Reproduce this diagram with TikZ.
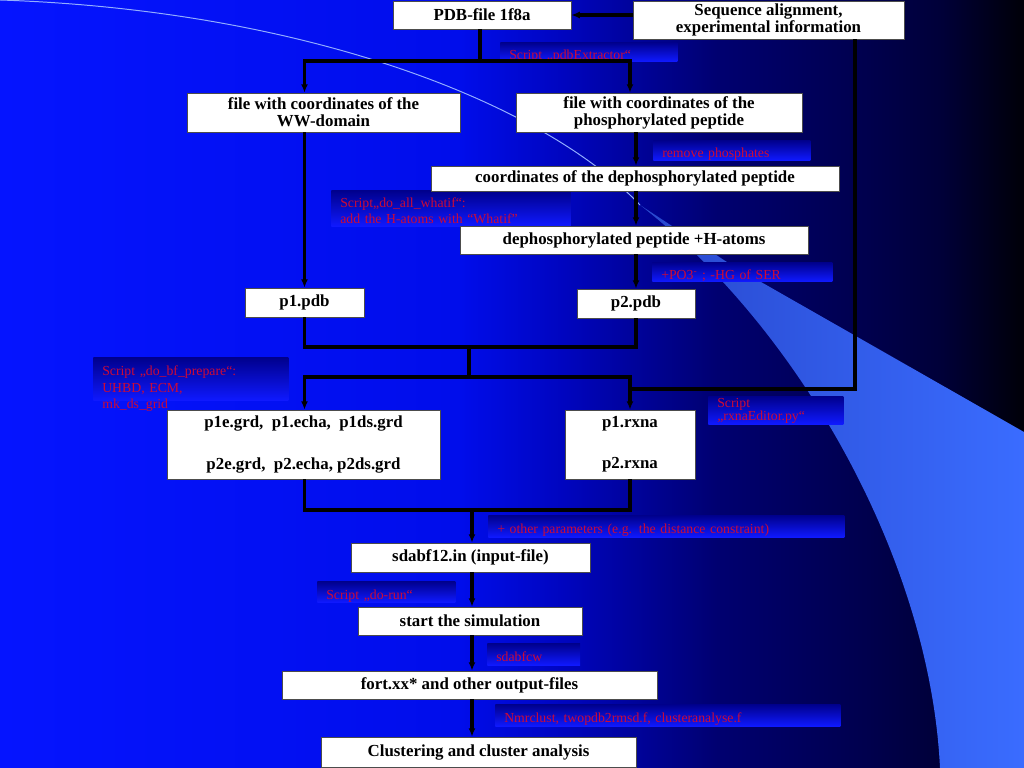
\documentclass[tikz,border=0pt]{standalone}
\usepackage{fontspec}
\setmainfont{Liberation Serif}
\usetikzlibrary{arrows.meta,positioning,calc}
\definecolor{labred}{RGB}{205,10,55}
\definecolor{bandblue}{RGB}{58,108,255}
\definecolor{banddark}{RGB}{40,72,205}
\definecolor{lbltop}{RGB}{0,0,140}
\definecolor{lblbot}{RGB}{15,25,255}
\pgfdeclarehorizontalshading{bgfade}{100bp}{rgb(0bp)=(0.02,0.08,1); rgb(25bp)=(0.02,0.08,1); rgb(47.5bp)=(0,0.05,0.92); rgb(52.5bp)=(0,0.02,0.75); rgb(60bp)=(0,0,0.44); rgb(67.5bp)=(0,0,0.3); rgb(71bp)=(0,0,0.22); rgb(75bp)=(0,0,0.03); rgb(100bp)=(0,0,0.03)}
\tikzset{
    %Define standard arrow tip
    >={Latex[length=6pt,width=5pt]},
    %Define style for the white file boxes
    filebox/.style 2 args={
           rectangle,
           fill=white,
           draw=black!70, thin,
           minimum width=#1,
           minimum height=#2,
           inner sep=1pt,
           align=center,
           font=\fontsize{12}{12}\selectfont\bfseries},
    % Define style for the script notes
    note/.style 2 args={
           anchor=north west,
           shade, top color=lbltop, bottom color=lblbot,
           text=labred,
           text width=#1,
           minimum height=#2,
           text height=10.6pt, text depth=0pt,
           inner xsep=6.4pt, inner ysep=0pt,
           align=left,
           font=\fontsize{9.8}{11.6}\selectfont},
    % Define connector style
    pil/.style={
           line width=2.2pt,
           draw=black}
}

\begin{document}
\begin{tikzpicture}[x=0.025cm, y=-0.025cm]
    \useasboundingbox (0,0) rectangle (1024,768);
    % background
    \shade[shading=bgfade] (0,0) rectangle (1024,768);
    \shade[left color=banddark, right color=bandblue] (640,205) -- (733,266) -- (1024,432) -- (1024,768) -- (940,768) .. controls (930,560) and (800,330) .. (640,205) -- cycle;
    \draw[bandblue!55!white, line width=0.7pt] (0,0) .. controls (300,10) and (540,100) .. (640,205);

    % script notes
    \node[note={113.1pt}{13.5pt}] (npdbx) at (500,42) {Script „pdbExtractor“};
    \node[note={98.9pt}{14.2pt}] (nremove) at (653,140) {remove phosphates};
    \node[note={157.2pt}{25.6pt}, text height=0pt, text depth=1.3pt] (nwhatif) at (331,190) {Script„do\_all\_whatif“:\\ add the H-atoms with ``Whatif”};
    \node[note={115.2pt}{13.5pt}] (npo) at (652,262) {+PO3\textsuperscript{-} ; -HG of SER};
    \node[note={125.9pt}{30.6pt}, text height=0pt, text depth=4.3pt] (nprep) at (93,357) {Script „do\_bf\_prepare“:\\ UHBD, ECM,\\ mk\_ds\_grid};
    \node[note={83.2pt}{19.9pt}, text height=0pt, text depth=3.6pt, font={\fontsize{9.8}{9.4}\selectfont\lineskiplimit=-20pt}] (nrxna) at (708,396) {Script\\ „rxnaEditor.py“};
    \node[note={240.4pt}{15.6pt}] (nparam) at (488,515) {+ other parameters (e.g. the distance constraint)};
    \node[note={85.4pt}{14.9pt}] (nrun) at (317,581) {Script „do-run“};
    \node[note={53.3pt}{15.6pt}] (nsdabf) at (487,643) {sdabfcw};
    \node[note={232.6pt}{15.6pt}] (nclust) at (495,704) {Nmrclust, twopdb2rmsd.f, clusteranalyse.f};

    % file boxes
    \node[filebox={4.45cm}{0.7cm}] (pdbfile) at (482,15) {PDB-file 1f8a};
    \node[filebox={6.775cm}{0.95cm}] (seqalign) at (768.5,20) {Sequence alignment,\\ experimental information};
    \node[filebox={6.825cm}{0.975cm}] (wwdomain) at (323.5,112.5) {file with coordinates of the\\ WW-domain};
    \node[filebox={7.15cm}{0.975cm}] (phospho) at (659,112.5) {file with coordinates of the\\ phosphorylated peptide};
    \node[filebox={10.2cm}{0.625cm}] (dephos) at (635,178.5) {coordinates of the dephosphorylated peptide};
    \node[filebox={8.7cm}{0.7cm}] (hatoms) at (634,240) {dephosphorylated peptide +H-atoms};
    \node[filebox={2.975cm}{0.725cm}] (p1pdb) at (304.5,302.5) {p1.pdb};
    \node[filebox={2.95cm}{0.725cm}] (p2pdb) at (636,303.5) {p2.pdb};
    \node[filebox={6.825cm}{1.725cm}] (grids) at (303.5,444.5) {p1e.grd,~ p1.echa,~ p1ds.grd\\[17.2pt] p2e.grd,~ p2.echa, p2ds.grd};
    \node[filebox={3.25cm}{1.725cm}] (rxna) at (630,444.5) {p1.rxna\\[17.2pt] p2.rxna};
    \node[filebox={5.975cm}{0.725cm}] (input) at (470.5,557.5) {sdabf12.in (input-file)};
    \node[filebox={5.6cm}{0.7cm}] (simstart) at (470,621) {start the simulation};
    \node[filebox={9.375cm}{0.7cm}] (output) at (469.5,685) {fort.xx* and other output-files};
    \node[filebox={7.875cm}{0.75cm}] (cluster) at (478.5,752) {Clustering and cluster analysis};

    % connectors
    \coordinate (split1) at (480,61);
    \coordinate (merge1) at (469,347);
    \coordinate (split2) at (469,377);
    \coordinate (seqdrop) at (855,389);
    \coordinate (merge2) at (472,510);
    \draw[pil,->] (seqalign.west |- pdbfile.east) -- (pdbfile.east);
    \draw[pil] (pdbfile.south -| split1) -- (split1);
    \draw[pil,->] (split1) -| (wwdomain.north -| p1pdb.north);
    \draw[pil,->] (split1) -| (phospho.north -| rxna.north);
    \draw[pil,->] (phospho.south -| p2pdb.north) -- (dephos.north -| p2pdb.north);
    \draw[pil,->] (dephos.south -| p2pdb.north) -- (hatoms.north -| p2pdb.north);
    \draw[pil,->] (hatoms.south -| p2pdb.north) -- (p2pdb.north);
    \draw[pil,->] (wwdomain.south -| p1pdb.north) -- (p1pdb.north);
    \draw[pil] (p1pdb.south) |- (merge1) -| (p2pdb.south);
    \draw[pil] (merge1) -- (split2);
    \draw[pil,->] (split2) -| (grids.north -| p1pdb.north);
    \draw[pil,->] (split2) -| (rxna.north);
    \draw[pil] (seqalign.south -| seqdrop) -- (seqdrop) -- (seqdrop -| rxna.north);
    \draw[pil] (grids.south -| p1pdb.south) |- (merge2) -| (rxna.south);
    \draw[pil,->] (merge2) -- (merge2 |- input.north);
    \draw[pil,->] (input.south -| merge2) -- (simstart.north -| merge2);
    \draw[pil,->] (simstart.south -| merge2) -- (output.north -| merge2);
    \draw[pil,->] (output.south -| merge2) -- (cluster.north -| merge2);
\end{tikzpicture}
\end{document}
